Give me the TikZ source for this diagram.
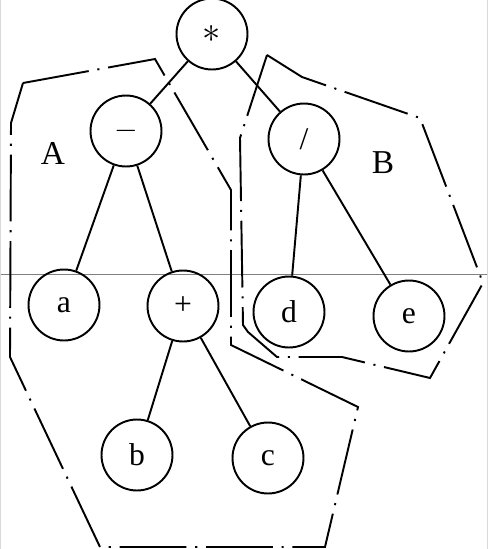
\documentclass[tikz,border=0pt]{standalone}
\usepackage{fontspec}
\setmainfont{Liberation Serif}
\usepackage{tikz}
\usetikzlibrary{positioning}

\begin{document}
\begin{tikzpicture}[
    x=0.02cm, y=-0.02cm,
    op/.style={draw, circle, line width=1.1pt, minimum size=1.42cm, inner sep=0pt, font=\fontsize{18}{20}\selectfont},
    edge/.style={line width=1.1pt},
    region/.style={line width=1.1pt, dash pattern=on 38pt off 5pt on 1.2pt off 5pt, line join=miter},
    lab/.style={font=\fontsize{19}{21}\selectfont}
]
\useasboundingbox (0,0) rectangle (488,549);
% scan artefacts
\draw[gray, line width=0.5pt] (0,274) -- (488,274);
\draw[gray!30, line width=0.6pt] (0.5,0) -- (0.5,549) (487.5,0) -- (487.5,549);

\node[op] (mul) at (212,34) {\fontsize{22}{24}\selectfont$\ast$};
\node[op] (sub) at (126,131) {$-$};
\node[op] (dvd) at (304,139) {/};
\node[op] (a) at (64,305) {a};
\node[op] (add) at (183,306) {+};
\node[op] (d) at (289,312) {d};
\node[op] (e) at (409,316) {e};
\node[op] (b) at (137,455) {b};
\node[op] (c) at (268,458) {c};

\draw[edge] (mul) -- (sub);
\draw[edge] (mul) -- (dvd);
\draw[edge] (sub) -- (a);
\draw[edge] (sub) -- (add);
\draw[edge] (dvd) -- (d);
\draw[edge] (dvd) -- (e);
\draw[edge] (add) -- (b);
\draw[edge] (add) -- (c);

% subtree A
\draw[region] (23,83) -- (155,59) -- (231,190) -- (231,345) -- (358,407)
    -- (325,547) -- (100,547) -- (10,357) -- (11,123) -- cycle;
% subtree B
\draw[region] (267,55) -- (302,77) -- (420,118) -- (483,283) -- (430,378)
    -- (342,357) -- (277,357) -- (248,332) -- (243,325) -- (240,138) -- cycle;

\node[lab] (labA) at (53,153) {A};
\node[lab] (labB) at (383,163) {B};
\end{tikzpicture}
\end{document}
